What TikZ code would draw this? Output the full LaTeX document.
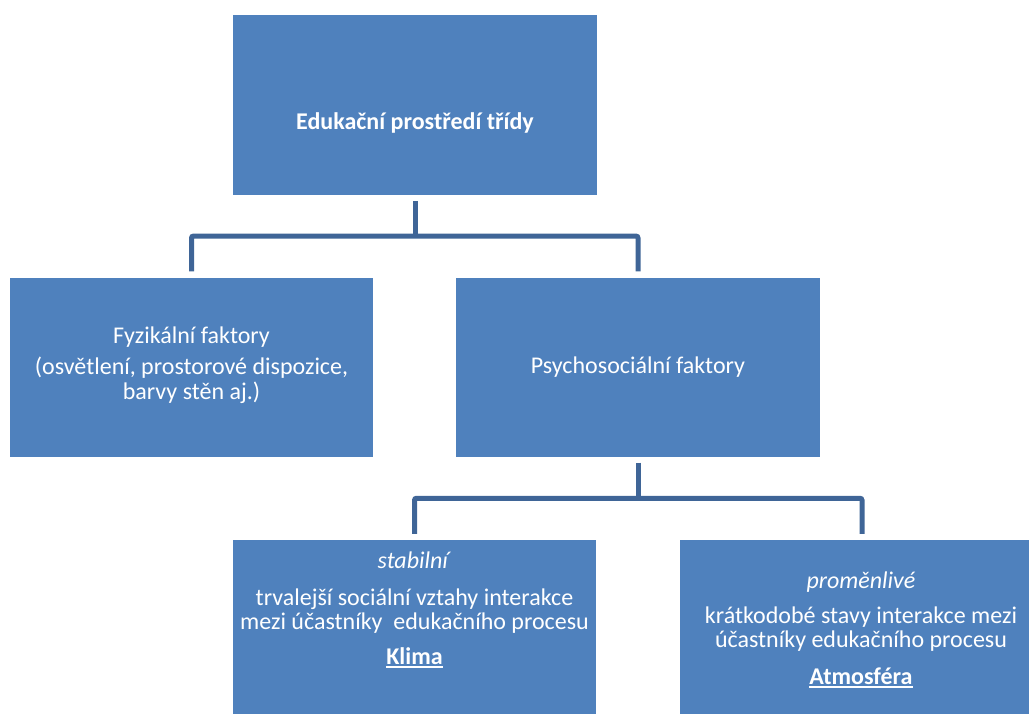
\documentclass[tikz,border=0pt]{standalone}
\usepackage{fontspec}
\setmainfont{Carlito}
\usetikzlibrary{calc}
\definecolor{boxblue}{HTML}{4F81BD}
\definecolor{linkblue}{HTML}{3F6597}
\newcommand\myul[1]{\setbox0\hbox{#1}\rlap{\rule[-3.5pt]{\wd0}{1.8pt}}\box0}
\begin{document}
\begin{tikzpicture}[x=1pt,y=-1pt,
  box/.style={fill=boxblue, draw=none, inner sep=0pt, anchor=center},
  txt/.style={text=white, align=center, inner sep=0pt, anchor=base, font=\fontsize{24}{24.5}\selectfont},
  tight/.style={font=\fontsize{24}{24}\selectfont},
  conn/.style={draw=linkblue, line width=5pt, rounded corners=2pt}]
\useasboundingbox (0,0) rectangle (1029,713);
\clip (0,0) rectangle (1029,713);
% boxes
\node[box, minimum width=364pt, minimum height=179.6pt] (top) at (415,104.8) {};
\node[box, minimum width=363pt, minimum height=179pt] (left) at (191.5,367) {};
\node[box, minimum width=364pt, minimum height=179pt] (mid) at (638,367) {};
\node[box, minimum width=363pt, minimum height=178pt] (bl) at (414.5,629) {};
\node[box, minimum width=364pt, minimum height=178pt] (br) at (862,629) {};
% texts (anchor base = baseline of the last line)
\node[txt, font=\fontsize{24}{29.5}\selectfont\bfseries] (topT) at (415,129.5) {Edukační prostředí třídy};
\node[txt] (leftT) at (191.5,399) {Fyzikální faktory\\[7pt](osvětlení, prostorové dispozice,\\barvy stěn aj.)};
\node[txt] (midT) at (638,373) {Psychosociální faktory};
\node[txt, tight] (blT) at (414.5,664.5) {\textit{stabilní}\\[13.5pt]trvalejší sociální vztahy interakce\\mezi účastníky\ \ edukačního procesu\\[11pt]\textbf{\myul{Klima}}};
\node[txt, tight] (brT) at (861,684.5) {\textit{proměnlivé}\\[11.5pt]krátkodobé stavy interakce mezi\\účastníky edukačního procesu\\[13pt]\textbf{\myul{Atmosféra}}};
% connectors
\coordinate (j1) at ($(top.south)!0.5!(left.north)$);
\coordinate (j2) at ($(mid.south)!0.5!(bl.north)$);
\draw[conn] ([yshift=-6pt]top.south) -- (top.south |- j1);
\draw[conn] ([yshift=6pt]left.north) |- (top.south |- j1) -| ([yshift=6pt]mid.north);
\draw[conn] ([yshift=-6pt]mid.south) -- (mid.south |- j2);
\draw[conn] ([yshift=6pt]bl.north) |- (mid.south |- j2) -| ([yshift=6pt]br.north);
\end{tikzpicture}
\end{document}
